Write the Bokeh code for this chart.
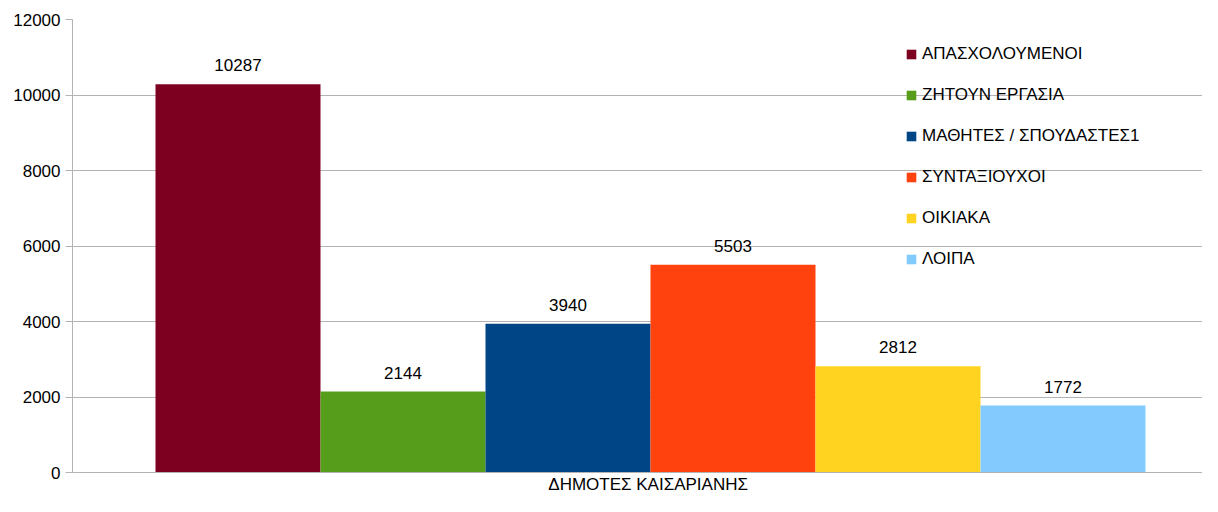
from bokeh.plotting import figure
from bokeh.models import ColumnDataSource, Range1d, FixedTicker, Legend, LegendItem
from bokeh.core.properties import value
from bokeh.embed import file_html
from bokeh.resources import INLINE

category = "ΔΗΜΟΤΕΣ  ΚΑΙΣΑΡΙΑΝΗΣ"
series = ["ΑΠΑΣΧΟΛΟΥΜΕΝΟΙ", "ΖΗΤΟΥΝ ΕΡΓΑΣΙΑ", "ΜΑΘΗΤΕΣ / ΣΠΟΥΔΑΣΤΕΣ1",
          "ΣΥΝΤΑΞΙΟΥΧΟΙ", "ΟΙΚΙΑΚΑ", "ΛΟΙΠΑ"]
values = [10287, 2144, 3940, 5503, 2812, 1772]
colors = ["#7e0021", "#579d1c", "#004586", "#ff420e", "#ffd320", "#83caff"]
y_ticks = [0, 2000, 4000, 6000, 8000, 10000, 12000]

FONT = "Liberation Sans"
GRID = "#b3b3b3"

xs = [i + 0.5 for i in range(len(series))]
x_start = -83 / 165
x_end = x_start + 1130 / 165

p = figure(width=1202, height=496, output_backend="svg", toolbar_location=None,
           x_range=Range1d(x_start, x_end), y_range=Range1d(0, 12000),
           min_border_left=72, min_border_top=19, min_border_right=0, min_border_bottom=22)
p.outline_line_color = None
p.background_fill_color = "white"

items = []
for i, (s, v, c) in enumerate(zip(series, values, colors)):
    src = ColumnDataSource(dict(x=[xs[i]], top=[v], lab=[str(v)]))
    r = p.vbar(x="x", top="top", width=1.0, bottom=0, source=src,
               fill_color=c, line_color=None)
    p.text(x="x", y="top", text="lab", source=src, text_align="center",
           text_baseline="alphabetic", y_offset=-19, text_font=value(FONT),
           text_font_size="17px", text_color="#000000")
    items.append(LegendItem(label=s, renderers=[r]))

legend = Legend(items=items, location=(833, 203), padding=0, margin=0,
                spacing=21, label_height=20, glyph_height=12, glyph_width=12,
                label_standoff=5, label_text_font=FONT, label_text_font_size="17px",
                label_text_color="#000000", border_line_alpha=0,
                background_fill_alpha=0)
p.add_layout(legend)

p.yaxis.ticker = FixedTicker(ticks=y_ticks)
p.yaxis.major_label_text_font = FONT
p.yaxis.major_label_text_font_size = "17px"
p.yaxis.major_label_text_color = "#000000"
p.yaxis.axis_line_color = GRID
p.yaxis.major_tick_line_color = GRID
p.yaxis.major_tick_out = 7
p.yaxis.major_tick_in = 0
p.yaxis.minor_tick_line_color = None
p.yaxis.major_label_standoff = 5

mid = sum(xs) / len(xs)
p.xaxis.ticker = FixedTicker(ticks=[mid])
p.xaxis.major_label_overrides = {mid: category}
p.xaxis.major_label_text_font = FONT
p.xaxis.major_label_text_font_size = "17px"
p.xaxis.major_label_text_color = "#000000"
p.xaxis.axis_line_color = GRID
p.xaxis.major_tick_line_color = None
p.xaxis.major_tick_out = 0
p.xaxis.major_tick_in = 0
p.xaxis.minor_tick_line_color = None
p.xaxis.major_label_standoff = 2

p.xgrid.grid_line_color = None
p.ygrid.grid_line_color = GRID
p.ygrid.ticker = FixedTicker(ticks=y_ticks)

open("out.html", "w").write(file_html(p, INLINE))
